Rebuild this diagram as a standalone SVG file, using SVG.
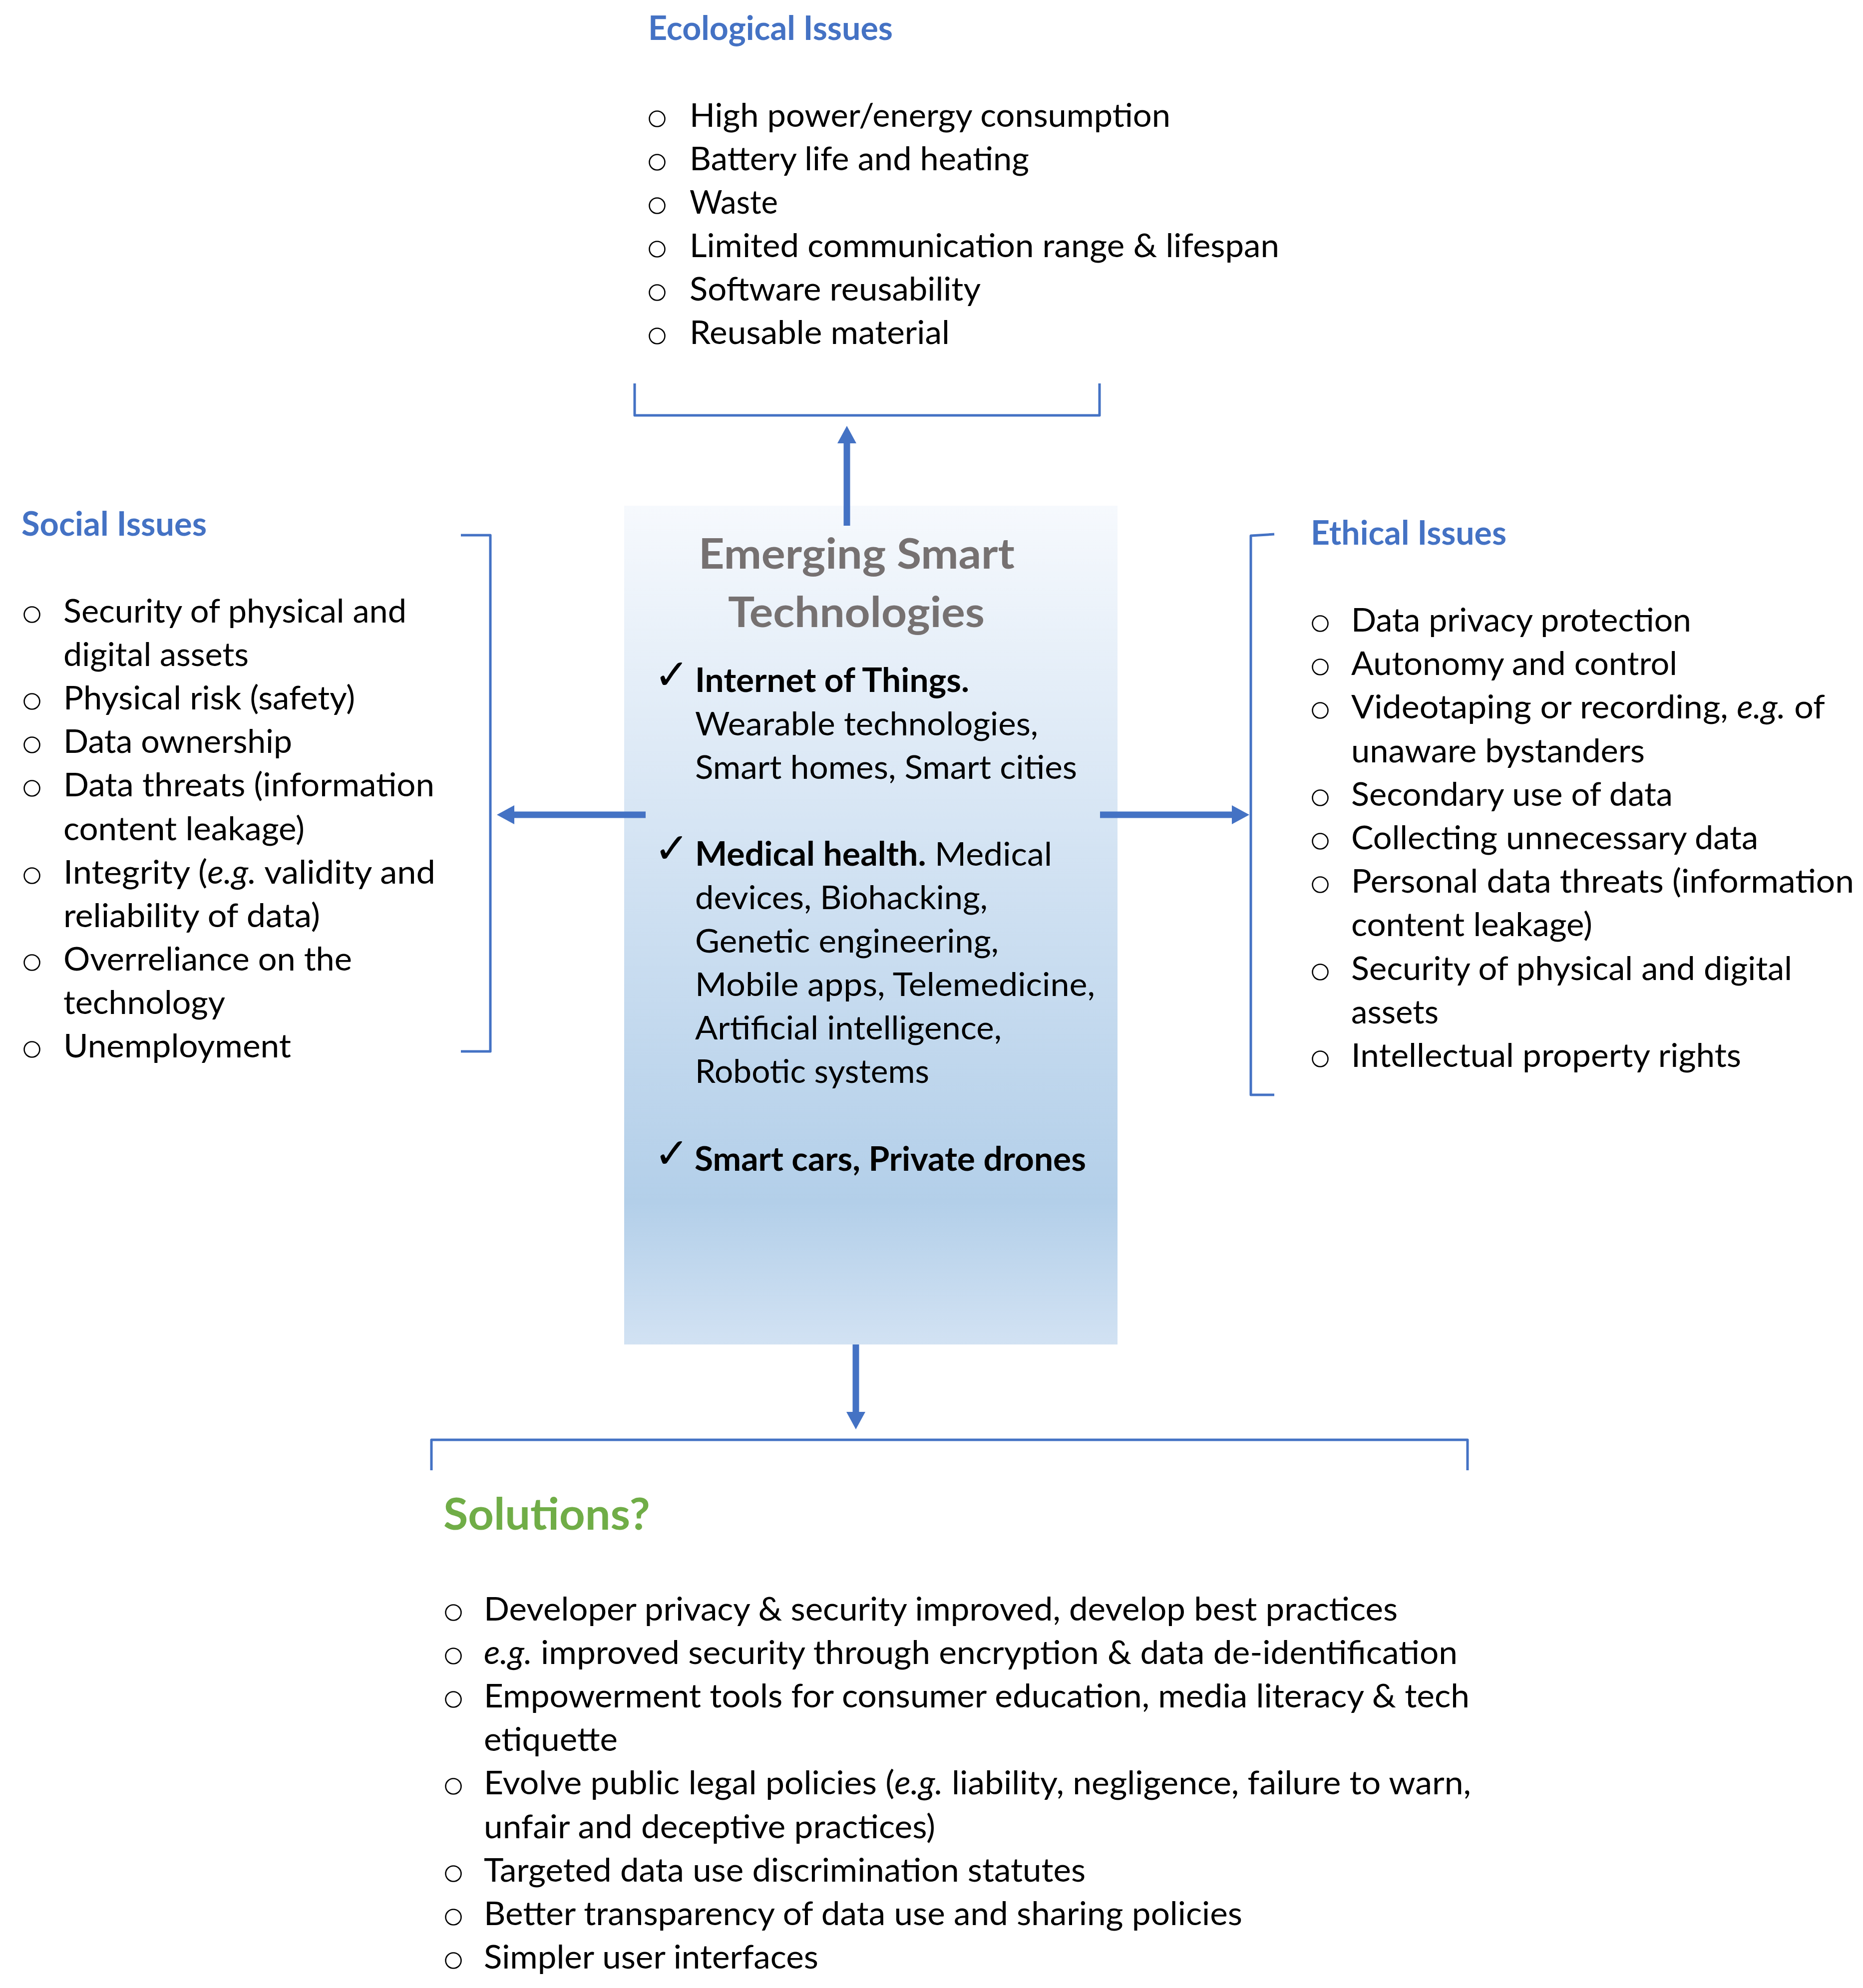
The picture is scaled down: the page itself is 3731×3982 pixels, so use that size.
<svg xmlns="http://www.w3.org/2000/svg" width="3731" height="3982" viewBox="0 0 3731 3982">
<style>
text{font-family:Lato,"Liberation Sans",sans-serif;}
.t{font-size:66px;font-weight:700;fill:#4472C4;}
.it{font-size:66px;fill:#000;}
.b{font-weight:700;}
.i{font-style:italic;}
.bul{fill:none;stroke:#000;stroke-width:2.6;}
.brk{fill:none;stroke:#4472C4;stroke-width:5;stroke-linejoin:round;}
.arr{fill:none;stroke:#4472C4;stroke-width:13;}
.chk{font-family:"DejaVu Sans",sans-serif;font-size:84px;fill:#000;}
</style>
<defs>
<linearGradient id="boxg" x1="0" y1="0" x2="0" y2="1">
<stop offset="0" stop-color="#f6f9fd"/>
<stop offset="0.45" stop-color="#d0e1f2"/>
<stop offset="0.83" stop-color="#b3cfe9"/>
<stop offset="1" stop-color="#d2e2f3"/>
</linearGradient>
<marker id="ah" markerUnits="userSpaceOnUse" markerWidth="36" markerHeight="38" refX="0" refY="19" orient="auto">
<path d="M0,0 L35,19 L0,38 Z" fill="#4472C4"/>
</marker>
</defs>
<rect width="3731" height="3982" fill="#fff"/>

<g id="node-center">
<rect x="1250" y="1013" width="988" height="1680" fill="url(#boxg)"/>
<text x="1399" y="1139" textLength="633" lengthAdjust="spacingAndGlyphs" style="font-size:84px;font-weight:700;fill:#767171">Emerging Smart</text>
<text x="1458" y="1256" textLength="514" lengthAdjust="spacingAndGlyphs" style="font-size:84px;font-weight:700;fill:#767171">Technologies</text>
<text class="chk" x="1310" y="1380">✓</text>
<text class="it b" x="1392" y="1386" textLength="549" lengthAdjust="spacingAndGlyphs">Internet of Things.</text>
<text class="it" x="1392" y="1473" textLength="687" lengthAdjust="spacingAndGlyphs">Wearable technologies,</text>
<text class="it" x="1392" y="1560" textLength="765" lengthAdjust="spacingAndGlyphs">Smart homes, Smart cities</text>
<text class="chk" x="1310" y="1728">✓</text>
<text class="it" x="1392" y="1734" textLength="715" lengthAdjust="spacingAndGlyphs"><tspan class="b">Medical health.</tspan> Medical</text>
<text class="it" x="1392" y="1821" textLength="586" lengthAdjust="spacingAndGlyphs">devices, Biohacking,</text>
<text class="it" x="1392" y="1908" textLength="608" lengthAdjust="spacingAndGlyphs">Genetic engineering,</text>
<text class="it" x="1392" y="1995" textLength="801" lengthAdjust="spacingAndGlyphs">Mobile apps, Telemedicine,</text>
<text class="it" x="1392" y="2082" textLength="614" lengthAdjust="spacingAndGlyphs">Artificial intelligence,</text>
<text class="it" x="1392" y="2169" textLength="469" lengthAdjust="spacingAndGlyphs">Robotic systems</text>
<text class="chk" x="1310" y="2339">✓</text>
<text class="it b" x="1391" y="2345" textLength="784" lengthAdjust="spacingAndGlyphs">Smart cars, Private drones</text>
</g>

<g id="node-ecological">
<text class="t" x="1298" y="80" textLength="490" lengthAdjust="spacingAndGlyphs">Ecological Issues</text>
<circle class="bul" cx="1316" cy="238" r="15.5"/>
<circle class="bul" cx="1316" cy="325" r="15.5"/>
<circle class="bul" cx="1316" cy="412" r="15.5"/>
<circle class="bul" cx="1316" cy="499" r="15.5"/>
<circle class="bul" cx="1316" cy="586" r="15.5"/>
<circle class="bul" cx="1316" cy="673" r="15.5"/>
<text class="it" x="1381" y="254" textLength="963" lengthAdjust="spacingAndGlyphs">High power/energy consumption</text>
<text class="it" x="1381" y="341" textLength="680" lengthAdjust="spacingAndGlyphs">Battery life and heating</text>
<text class="it" x="1381" y="428" textLength="177" lengthAdjust="spacingAndGlyphs">Waste</text>
<text class="it" x="1381" y="515" textLength="1181" lengthAdjust="spacingAndGlyphs">Limited communication range &amp; lifespan</text>
<text class="it" x="1381" y="602" textLength="583" lengthAdjust="spacingAndGlyphs">Software reusability</text>
<text class="it" x="1381" y="689" textLength="521" lengthAdjust="spacingAndGlyphs">Reusable material</text>
<path class="brk" d="M1271,768 L1271,832 L2202,832 L2202,768"/>
</g>

<g id="node-social">
<text class="t" x="43" y="1073" textLength="371" lengthAdjust="spacingAndGlyphs">Social Issues</text>
<circle class="bul" cx="64" cy="1231" r="15.5"/>
<circle class="bul" cx="64" cy="1405" r="15.5"/>
<circle class="bul" cx="64" cy="1492" r="15.5"/>
<circle class="bul" cx="64" cy="1579" r="15.5"/>
<circle class="bul" cx="64" cy="1754" r="15.5"/>
<circle class="bul" cx="64" cy="1928" r="15.5"/>
<circle class="bul" cx="64" cy="2102" r="15.5"/>
<text class="it" x="127" y="1247" textLength="687" lengthAdjust="spacingAndGlyphs">Security of physical and</text>
<text class="it" x="127" y="1334" textLength="371" lengthAdjust="spacingAndGlyphs">digital assets</text>
<text class="it" x="127" y="1421" textLength="584" lengthAdjust="spacingAndGlyphs">Physical risk (safety)</text>
<text class="it" x="127" y="1508" textLength="458" lengthAdjust="spacingAndGlyphs">Data ownership</text>
<text class="it" x="127" y="1595" textLength="743" lengthAdjust="spacingAndGlyphs">Data threats (information</text>
<text class="it" x="127" y="1683" textLength="483" lengthAdjust="spacingAndGlyphs">content leakage)</text>
<text class="it" x="127" y="1770" textLength="745" lengthAdjust="spacingAndGlyphs">Integrity (<tspan class="i">e.g.</tspan> validity and</text>
<text class="it" x="127" y="1857" textLength="514" lengthAdjust="spacingAndGlyphs">reliability of data)</text>
<text class="it" x="127" y="1944" textLength="578" lengthAdjust="spacingAndGlyphs">Overreliance on the</text>
<text class="it" x="127" y="2031" textLength="324" lengthAdjust="spacingAndGlyphs">technology</text>
<text class="it" x="127" y="2118" textLength="456" lengthAdjust="spacingAndGlyphs">Unemployment</text>
<path class="brk" d="M923,1072 L982,1072 L982,2106 L923,2106"/>
</g>

<g id="node-ethical">
<text class="t" x="2625" y="1091" textLength="392" lengthAdjust="spacingAndGlyphs">Ethical Issues</text>
<circle class="bul" cx="2644" cy="1249" r="15.5"/>
<circle class="bul" cx="2644" cy="1336" r="15.5"/>
<circle class="bul" cx="2644" cy="1423" r="15.5"/>
<circle class="bul" cx="2644" cy="1598" r="15.5"/>
<circle class="bul" cx="2644" cy="1685" r="15.5"/>
<circle class="bul" cx="2644" cy="1772" r="15.5"/>
<circle class="bul" cx="2644" cy="1947" r="15.5"/>
<circle class="bul" cx="2644" cy="2121" r="15.5"/>
<text class="it" x="2706" y="1265" textLength="681" lengthAdjust="spacingAndGlyphs">Data privacy protection</text>
<text class="it" x="2706" y="1352" textLength="653" lengthAdjust="spacingAndGlyphs">Autonomy and control</text>
<text class="it" x="2706" y="1439" textLength="949" lengthAdjust="spacingAndGlyphs">Videotaping or recording, <tspan class="i">e.g.</tspan> of</text>
<text class="it" x="2706" y="1527" textLength="588" lengthAdjust="spacingAndGlyphs">unaware bystanders</text>
<text class="it" x="2706" y="1614" textLength="644" lengthAdjust="spacingAndGlyphs">Secondary use of data</text>
<text class="it" x="2706" y="1701" textLength="815" lengthAdjust="spacingAndGlyphs">Collecting unnecessary data</text>
<text class="it" x="2706" y="1788" textLength="1007" lengthAdjust="spacingAndGlyphs">Personal data threats (information</text>
<text class="it" x="2706" y="1875" textLength="483" lengthAdjust="spacingAndGlyphs">content leakage)</text>
<text class="it" x="2706" y="1963" textLength="883" lengthAdjust="spacingAndGlyphs">Security of physical and digital</text>
<text class="it" x="2706" y="2050" textLength="175" lengthAdjust="spacingAndGlyphs">assets</text>
<text class="it" x="2706" y="2137" textLength="781" lengthAdjust="spacingAndGlyphs">Intellectual property rights</text>
<path class="brk" d="M2552,1070 L2505,1073 L2505,2193 L2552,2193"/>
</g>

<g id="node-solutions">
<path class="brk" d="M864,2945 L864,2884 L2939,2884 L2939,2945"/>
<text x="888" y="3064" textLength="414" lengthAdjust="spacingAndGlyphs" style="font-size:88px;font-weight:700;fill:#70AD47">Solutions?</text>
<circle class="bul" cx="908" cy="3230" r="15.5"/>
<circle class="bul" cx="908" cy="3317" r="15.5"/>
<circle class="bul" cx="908" cy="3404" r="15.5"/>
<circle class="bul" cx="908" cy="3578" r="15.5"/>
<circle class="bul" cx="908" cy="3753" r="15.5"/>
<circle class="bul" cx="908" cy="3840" r="15.5"/>
<circle class="bul" cx="908" cy="3927" r="15.5"/>
<text class="it" x="969" y="3246" textLength="1830" lengthAdjust="spacingAndGlyphs">Developer privacy &amp; security improved, develop best practices</text>
<text class="it" x="969" y="3333" textLength="1950" lengthAdjust="spacingAndGlyphs"><tspan class="i">e.g.</tspan> improved security through encryption &amp; data de-identification</text>
<text class="it" x="969" y="3420" textLength="1974" lengthAdjust="spacingAndGlyphs">Empowerment tools for consumer education, media literacy &amp; tech</text>
<text class="it" x="969" y="3507" textLength="268" lengthAdjust="spacingAndGlyphs">etiquette</text>
<text class="it" x="969" y="3594" textLength="1977" lengthAdjust="spacingAndGlyphs">Evolve public legal policies (<tspan class="i">e.g.</tspan> liability, negligence, failure to warn,</text>
<text class="it" x="969" y="3682" textLength="904" lengthAdjust="spacingAndGlyphs">unfair and deceptive practices)</text>
<text class="it" x="969" y="3769" textLength="1205" lengthAdjust="spacingAndGlyphs">Targeted data use discrimination statutes</text>
<text class="it" x="969" y="3856" textLength="1519" lengthAdjust="spacingAndGlyphs">Better transparency of data use and sharing policies</text>
<text class="it" x="969" y="3943" textLength="670" lengthAdjust="spacingAndGlyphs">Simpler user interfaces</text>
</g>

<g id="connectors">
<line class="arr" x1="1696" y1="1053" x2="1696" y2="888" marker-end="url(#ah)"/>
<line class="arr" x1="1293" y1="1632" x2="1030" y2="1632" marker-end="url(#ah)"/>
<line class="arr" x1="2203" y1="1632" x2="2467" y2="1632" marker-end="url(#ah)"/>
<line class="arr" x1="1714" y1="2693" x2="1714" y2="2828" marker-end="url(#ah)"/>
</g>
</svg>
